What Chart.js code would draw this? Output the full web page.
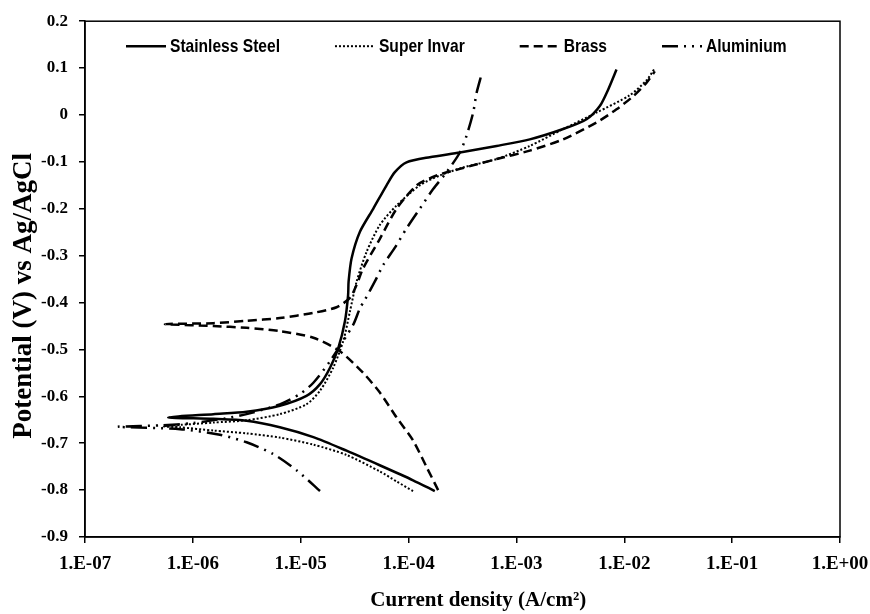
<!DOCTYPE html>
<html>
<head>
<meta charset="utf-8">
<script src="https://cdn.jsdelivr.net/npm/chart.js@4.4.1/dist/chart.umd.min.js"></script>
<style>
html,body{margin:0;padding:0;background:#fff;}
#wrap{width:870px;height:614px;}
</style>
</head>
<body>
<div id="wrap"><canvas id="c" width="870" height="614"></canvas></div>
<script>
// ---- Data (current density in A/cm2, potential in V vs Ag/AgCl) ----
const seriesNames = ['Stainless Steel', 'Super Invar', 'Brass', 'Aluminium'];

const steelI = [1.75e-4, 1.10e-4, 5.4e-5, 2.66e-5, 1.31e-5, 6.4e-6, 3.15e-6, 1.55e-6, 5.9e-7,
  1.55e-6, 3.15e-6, 6.4e-6, 1.13e-5, 1.51e-5, 1.87e-5, 2.23e-5, 2.57e-5, 2.75e-5, 2.78e-5, 2.96e-5,
  3.54e-5, 4.7e-5, 6.25e-5, 7.46e-5, 9.57e-5, 1.57e-4, 2.99e-4, 6.55e-4, 1.33e-3, 2.71e-3, 4.47e-3,
  5.93e-3, 7.08e-3, 8.47e-3];
const steelE = [-0.802, -0.779, -0.747, -0.716, -0.687, -0.666, -0.652, -0.648, -0.645,
  -0.638, -0.633, -0.620, -0.599, -0.574, -0.539, -0.497, -0.440, -0.384, -0.355, -0.306,
  -0.249, -0.200, -0.150, -0.122, -0.101, -0.090, -0.080, -0.066, -0.052, -0.030, -0.009,
  0.019, 0.054, 0.097];

const invarI = [1.10e-4, 7.8e-5, 5.4e-5, 2.66e-5, 1.31e-5, 6.4e-6, 3.15e-6, 1.55e-6, 7.6e-7, 5.3e-7,
  7.6e-7, 1.55e-6, 3.15e-6, 6.4e-6, 1.13e-5, 1.51e-5, 2.0e-5, 2.48e-5, 2.86e-5, 3.3e-5, 4.08e-5,
  5.4e-5, 7.74e-5, 1.27e-4, 1.95e-4, 3.21e-4, 6.55e-4, 1.33e-3, 2.71e-3, 5.52e-3, 1.12e-2,
  1.61e-2, 1.92e-2];
const invarE = [-0.802, -0.782, -0.760, -0.725, -0.703, -0.688, -0.679, -0.673, -0.666, -0.664,
  -0.661, -0.656, -0.651, -0.638, -0.617, -0.588, -0.539, -0.482, -0.419, -0.355, -0.292,
  -0.235, -0.193, -0.150, -0.129, -0.112, -0.094, -0.066, -0.030, 0.005, 0.042,
  0.074, 0.100];

const brassI = [1.88e-4, 1.47e-4, 1.10e-4, 7.74e-5, 5.42e-5, 3.79e-5, 2.31e-5, 1.31e-5, 6.4e-6,
  3.15e-6, 1.55e-6, 5.5e-7, 1.55e-6, 3.15e-6, 6.4e-6, 1.31e-5, 2.15e-5, 2.86e-5, 3.3e-5, 3.79e-5,
  5.42e-5, 7.74e-5, 1.19e-4, 1.82e-4, 2.99e-4, 6.55e-4, 1.33e-3, 2.71e-3, 5.52e-3, 8.47e-3,
  1.21e-2, 1.61e-2, 1.92e-2];
const brassE = [-0.800, -0.751, -0.694, -0.645, -0.592, -0.550, -0.504, -0.475, -0.461,
  -0.454, -0.450, -0.446, -0.444, -0.439, -0.433, -0.422, -0.410, -0.390, -0.362, -0.327,
  -0.264, -0.200, -0.150, -0.129, -0.115, -0.094, -0.076, -0.052, -0.016, 0.012,
  0.040, 0.069, 0.093];

const alumI = [1.51e-5, 9.2e-6, 5.56e-6, 3.15e-6, 1.78e-6, 7.6e-7, 2.0e-7,
  5.0e-7, 1.0e-6, 2.0e-6, 3.15e-6, 6.4e-6, 9.84e-6, 1.31e-5, 1.87e-5, 3.07e-5, 3.54e-5, 3.94e-5,
  4.87e-5, 5.82e-5, 7.46e-5, 9.57e-5, 1.27e-4, 1.69e-4, 2.25e-4, 2.99e-4, 3.45e-4, 3.97e-4,
  4.27e-4, 4.74e-4];
const alumE = [-0.802, -0.758, -0.723, -0.698, -0.682, -0.670, -0.665,
  -0.662, -0.657, -0.647, -0.638, -0.617, -0.595, -0.571, -0.525, -0.447, -0.412, -0.394,
  -0.355, -0.320, -0.283, -0.242, -0.200, -0.158, -0.122, -0.080, -0.044, 0.005,
  0.047, 0.086];

const xTickValues = [1e-7, 1e-6, 1e-5, 1e-4, 1e-3, 1e-2, 1e-1, 1];
const xTickLabels = ['1.E-07', '1.E-06', '1.E-05', '1.E-04', '1.E-03', '1.E-02', '1.E-01', '1.E+00'];

// ---- build ----
const toPts = (xs, ys) => xs.map((v, i) => ({x: v, y: ys[i]}));
const styles = [
  {borderWidth: 2.5, borderDash: []},
  {borderWidth: 2, borderDash: [2, 2]},
  {borderWidth: 2.5, borderDash: [9, 5]},
  {borderWidth: 2.5, borderDash: [16, 6, 2, 6, 2, 6]}
];
const seriesData = [toPts(steelI, steelE), toPts(invarI, invarE), toPts(brassI, brassE), toPts(alumI, alumE)];

const serif = '"Liberation Serif", "Times New Roman", serif';

const bgPlugin = {
  id: 'bg',
  beforeDraw(chart) {
    const c = chart.ctx;
    c.save(); c.fillStyle = '#fff'; c.fillRect(0, 0, chart.width, chart.height); c.restore();
  },
  afterDraw(chart) {
    const c = chart.ctx, a = chart.chartArea;
    c.save(); c.strokeStyle = '#000'; c.lineWidth = 1.5; c.setLineDash([]);
    c.strokeRect(a.left, a.top, a.right - a.left, a.bottom - a.top);
    c.restore();
  }
};

const legendPlugin = {
  id: 'lineLegend',
  afterDatasetsDraw(chart) {
    const c = chart.ctx, a = chart.chartArea;
    let x = a.left + 41;
    const y = a.top + 25;
    c.save();
    c.font = 'bold 19px "Liberation Sans", Arial, sans-serif';
    c.textBaseline = 'middle';
    c.fillStyle = '#000';
    chart.data.datasets.forEach(ds => {
      c.setLineDash(ds.borderDash || []);
      c.lineWidth = ds.borderWidth;
      c.strokeStyle = '#000';
      c.beginPath(); c.moveTo(x, y); c.lineTo(x + 40, y); c.stroke();
      c.setLineDash([]);
      const tx = x + 44;
      const w = c.measureText(ds.label).width * 0.82;
      c.save(); c.translate(tx, y + 1); c.scale(0.82, 1); c.fillText(ds.label, 0, 0); c.restore();
      x = tx + w + 55;
    });
    c.restore();
  }
};

new Chart(document.getElementById('c'), {
  type: 'scatter',
  data: {
    datasets: seriesNames.map((n, i) => ({
      label: n,
      data: seriesData[i],
      showLine: true,
      borderColor: '#000',
      backgroundColor: '#000',
      borderWidth: styles[i].borderWidth,
      borderDash: styles[i].borderDash,
      pointRadius: 0,
      pointHoverRadius: 0,
      tension: 0.25,
      fill: false
    }))
  },
  options: {
    responsive: false,
    devicePixelRatio: 1,
    animation: false,
    layout: {padding: {top: 18, right: 30, bottom: 0, left: 0}},
    plugins: {legend: {display: false}, tooltip: {enabled: false}},
    scales: {
      x: {
        type: 'logarithmic',
        position: 'bottom',
        min: 1e-7, max: 1,
        afterBuildTicks: s => { s.ticks = xTickValues.map(v => ({value: v})); },
        afterFit: s => { s.height = 77; s.paddingRight = 0; s.paddingLeft = 0; },
        ticks: {
          autoSkip: false, maxRotation: 0, color: '#000', padding: 10,
          font: {family: serif, size: 19, weight: 'bold'},
          callback: (v, i) => xTickLabels[i]
        },
        grid: {display: true, drawOnChartArea: false, drawTicks: true, tickLength: 6, color: '#000', lineWidth: 1.5},
        border: {display: true, color: '#000', width: 1.5},
        title: {
          display: true,
          text: '\u2002\u2002\u2002Current density (A/cm\u00b2)',
          color: '#000',
          font: {family: serif, size: 21, weight: 'bold'},
          padding: {top: 0, bottom: 1}
        }
      },
      y: {
        type: 'linear',
        min: -0.9, max: 0.2,
        afterFit: s => { s.width = 85; },
        ticks: {
          stepSize: 0.1, color: '#000', padding: 11,
          font: {family: serif, size: 17, weight: 'bold'},
          callback: v => { const r = Math.round(v * 10) / 10; return r === 0 ? '0' : String(r); }
        },
        grid: {display: true, drawOnChartArea: false, drawTicks: true, tickLength: 6, color: '#000', lineWidth: 1.5},
        border: {display: true, color: '#000', width: 1.5},
        title: {
          display: true,
          text: 'Potential (V) vs Ag/AgCl     ',
          color: '#000',
          font: {family: serif, size: 27, weight: 'bold'},
          padding: {top: 8, bottom: 0}
        }
      }
    }
  },
  plugins: [bgPlugin, legendPlugin]
});
</script>
</body>
</html>
